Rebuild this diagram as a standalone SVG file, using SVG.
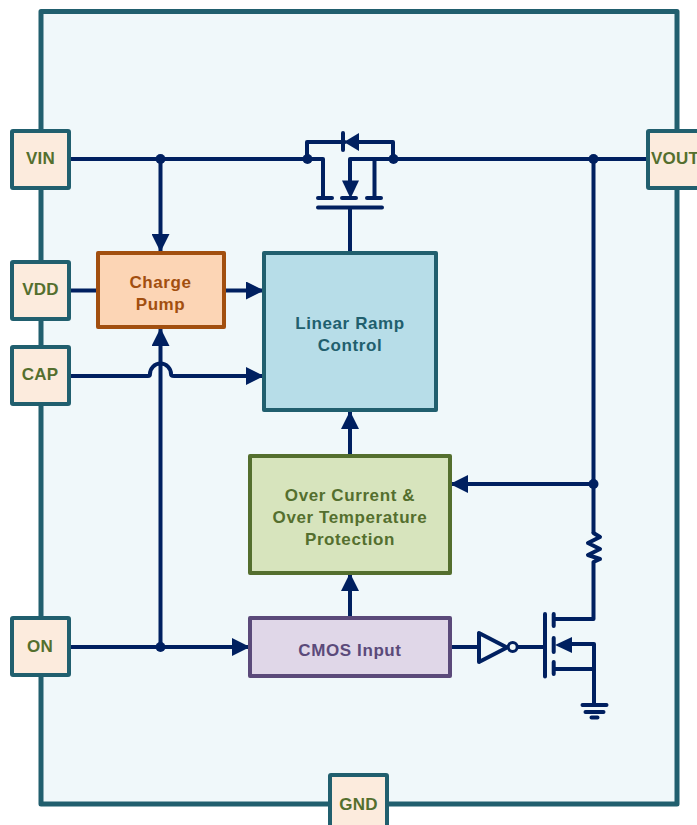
<svg xmlns="http://www.w3.org/2000/svg" width="697" height="825" viewBox="0 0 697 825">
<style>
.b{stroke-width:4;stroke-linejoin:round}
.pin rect{fill:#fcebdd;stroke:#215f6e;stroke-width:4;stroke-linejoin:round}
text{font-family:"Liberation Sans",Arial,sans-serif;font-weight:700;font-size:17px;text-anchor:middle;letter-spacing:.6px}
.pin text{fill:#546f2e;letter-spacing:.2px}
#connectors path,.sym{fill:none;stroke:#002060;stroke-width:4;stroke-linecap:round;stroke-linejoin:round}
#connectors path{stroke-linecap:butt}
.dot{fill:#002060;stroke:none}
.ah{fill:#002060;stroke:none}
</style>
<defs>
<marker id="a" viewBox="0 0 18 18" refX="17" refY="9" markerWidth="18" markerHeight="18" markerUnits="userSpaceOnUse" orient="auto"><path d="M0 0L18 9L0 18Z" fill="#002060"/></marker>
</defs>
<rect id="frame" x="41" y="11.500" width="636" height="792.500" fill="#f0f8fa" stroke="#215f6e" stroke-width="5" stroke-linejoin="round"/>
<g id="connectors">
<path d="M70 159H323"/>
<path d="M350 159H650"/>
<path d="M160.500 159V251" marker-end="url(#a)"/>
<path d="M70 290.500H98"/>
<path d="M225 290.500H263" marker-end="url(#a)"/>
<path d="M70 376H148Q150 376 150 374A10.500 10.500 0 0 1 171 374Q171 376 174 376H263" marker-end="url(#a)"/>
<path d="M160.500 647V329" marker-end="url(#a)"/>
<path d="M70 647H249" marker-end="url(#a)"/>
<path d="M350 252V208"/>
<path d="M350 456V412" marker-end="url(#a)"/>
<path d="M350 618V574" marker-end="url(#a)"/>
<path d="M593.500 484H451" marker-end="url(#a)"/>
<path d="M593.500 159V533"/>
<path d="M451 647H479"/>
<circle class="dot" cx="160.500" cy="159" r="5"/>
<circle class="dot" cx="160.500" cy="647" r="5"/>
<circle class="dot" cx="593.500" cy="159" r="5"/>
<circle class="dot" cx="593.500" cy="484" r="5"/>
</g>
<g id="mosfet-top">
<path class="sym" d="M307 159V142H345M393 159V142H358M343 133V150M323 159V198M350 159V182M374.500 159V198M318 198H332M342 198H356M367 198H381M318 207.500H382"/>
<path class="ah" d="M359 133L344 142L359 151Z"/>
<path class="ah" d="M342 180.500H359L350.500 198.500Z"/>
<circle class="dot" cx="307.500" cy="159" r="5"/>
<circle class="dot" cx="393.500" cy="159" r="5"/>
</g>
<g id="pin-vin" class="pin"><rect x="12" y="131" width="57" height="57" rx="1"/><text x="40.500" y="164">VIN</text></g>
<g id="pin-vdd" class="pin"><rect x="12" y="262" width="57" height="57" rx="1"/><text x="40.500" y="295">VDD</text></g>
<g id="pin-cap" class="pin"><rect x="12" y="347" width="57" height="57" rx="1"/><text x="40" y="380">CAP</text></g>
<g id="pin-on" class="pin"><rect x="12" y="618" width="57" height="57" rx="1"/><text x="40" y="652">ON</text></g>
<g id="pin-vout" class="pin"><rect x="648" y="131" width="57" height="57" rx="1"/><text x="675" y="164">VOUT</text></g>
<g id="pin-gnd" class="pin"><rect x="330" y="775" width="57" height="57" rx="1"/><text x="358.500" y="810">GND</text></g>
<g id="charge-pump"><rect class="b" x="98" y="253" width="126" height="74" fill="#fcd5b5" stroke="#a24f0f"/><text fill="#a24f0f" x="160.500" y="288">Charge</text><text fill="#a24f0f" x="160.500" y="310">Pump</text></g>
<g id="linear-ramp"><rect class="b" x="264" y="253" width="172" height="157" fill="#b7dde8" stroke="#215f6e"/><text fill="#215f6e" x="350" y="329">Linear Ramp</text><text fill="#215f6e" x="350" y="351">Control</text></g>
<g id="protection"><rect class="b" x="250" y="456" width="200" height="117" fill="#d7e4bd" stroke="#546f2e"/><text fill="#546f2e" x="350" y="501">Over Current &amp;</text><text fill="#546f2e" x="350" y="523">Over Temperature</text><text fill="#546f2e" x="350" y="545">Protection</text></g>
<g id="cmos-input"><rect class="b" x="250" y="618" width="200" height="58" fill="#e0d7e8" stroke="#5b4a7a"/><text fill="#5b4a7a" x="350" y="656">CMOS Input</text></g>
<g id="resistor"><path class="sym" d="M593.500 533L600 537L588 543L600 549L588 555L600 559L593.500 562V619H554"/></g>
<g id="inverter"><path class="sym" d="M479 633V662L507 647.500ZM518 647H545"/><circle cx="512.700" cy="647" r="4.500" fill="none" stroke="#002060" stroke-width="3"/></g>
<g id="mosfet-bottom">
<path class="sym" d="M545 614V676.500M553.700 614V626M553.700 638V652M553.700 662V674M553.700 669H594V644H570M594 669V705M582.500 705H606.500M585.500 712H603.500M591.500 717.500H597.500"/>
<path class="ah" d="M555 645L572 637V653Z"/>
</g>
</svg>
